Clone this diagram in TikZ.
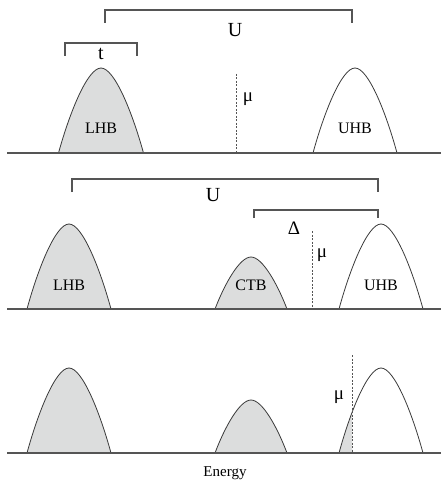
\documentclass[tikz,border=0pt]{standalone}
\usepackage{fontspec}
\setmainfont{Liberation Serif}
\definecolor{bandfill}{HTML}{DCDDDD}
\definecolor{bandline}{HTML}{3A3A3A}
\definecolor{axisline}{HTML}{555555}
\tikzset{
  bandcurve/.style={draw=bandline, line width=0.8pt},
  axis/.style={draw=axisline, line width=1.1pt},
  bracket/.style={draw=axisline, line width=1.1pt},
  mudash/.style={draw=axisline, line width=0.9pt, dash pattern=on 2pt off 1.5pt},
  bandlabel/.style={font=\fontsize{16}{19}\selectfont, inner sep=0pt},
  biglabel/.style={font=\fontsize{20}{24}\selectfont, inner sep=0pt},
  midlabel/.style={font=\fontsize{19}{22}\selectfont, inner sep=0pt},
}
% bump path: #1 center x, #2 half width, #3 height, #4 baseline y
\newcommand{\bumppath}[4]{(#1-#2,#4) .. controls (#1-0.74*#2,#4-0.47*#3) and (#1-0.32*#2,#4-#3) .. (#1,#4-#3) .. controls (#1+0.32*#2,#4-#3) and (#1+0.74*#2,#4-0.47*#3) .. (#1+#2,#4)}
\begin{document}
\begin{tikzpicture}[x=1pt,y=-1pt]
\useasboundingbox (0,0) rectangle (441,481);
% ---------- Panel 1 ----------
\fill[bandfill] \bumppath{101}{42.5}{85}{153} -- cycle;
\draw[bandcurve] \bumppath{101}{42.5}{85}{153};
\draw[bandcurve] \bumppath{355}{42}{85}{153};
\draw[axis] (7,153) -- (441,153);
\node[bandlabel] (lhb1) at (101,128) {LHB};
\node[bandlabel] (uhb1) at (355,128) {UHB};
\coordinate (mu1top) at (236,74);
\coordinate (mu1bot) at (236,153);
\draw[mudash] (mu1top) -- (mu1bot);
\node[midlabel] (mu1) at (248,99) {μ};
\draw[bracket] (105,23) -- (105,10) -- (352,10) -- (352,23);
\node[biglabel] (U1) at (235,30) {U};
\draw[bracket] (65,56) -- (65,43) -- (137,43) -- (137,56);
\node[biglabel] (t1) at (101,54) {t};
% ---------- Panel 2 ----------
\fill[bandfill] \bumppath{69}{42}{85}{309} -- cycle;
\draw[bandcurve] \bumppath{69}{42}{85}{309};
\fill[bandfill] \bumppath{251}{36}{52}{309} -- cycle;
\draw[bandcurve] \bumppath{251}{36}{52}{309};
\draw[bandcurve] \bumppath{381}{42}{85}{309};
\draw[axis] (7,309) -- (441,309);
\node[bandlabel] (lhb2) at (69,285) {LHB};
\node[bandlabel] (ctb2) at (251,285) {CTB};
\node[bandlabel] (uhb2) at (381,285) {UHB};
\coordinate (mu2top) at (312,231);
\coordinate (mu2bot) at (312,309);
\draw[mudash] (mu2top) -- (mu2bot);
\node[midlabel] (mu2) at (322,255) {μ};
\draw[bracket] (72,192) -- (72,179) -- (378,179) -- (378,192);
\node[biglabel] (U2) at (213,195) {U};
\draw[bracket] (254,218) -- (254,210) -- (378,210) -- (378,218);
\node[midlabel] (D2) at (294,228) {Δ};
% ---------- Panel 3 ----------
\fill[bandfill] \bumppath{69}{42}{85}{453} -- cycle;
\draw[bandcurve] \bumppath{69}{42}{85}{453};
\fill[bandfill] \bumppath{251}{36}{53}{453} -- cycle;
\draw[bandcurve] \bumppath{251}{36}{53}{453};
\begin{scope}
  \clip (300,300) rectangle (352,460);
  \fill[bandfill] \bumppath{381}{42}{85}{453} -- cycle;
\end{scope}
\draw[bandcurve] \bumppath{381}{42}{85}{453};
\draw[axis] (7,453) -- (441,453);
\coordinate (mu3top) at (352,355);
\coordinate (mu3bot) at (352,453);
\draw[mudash] (mu3top) -- (mu3bot);
\node[midlabel] (mu3) at (339,397) {μ};
\node[font=\fontsize{15}{18}\selectfont, inner sep=0pt] (energy) at (225,473) {Energy};
\end{tikzpicture}
\end{document}
